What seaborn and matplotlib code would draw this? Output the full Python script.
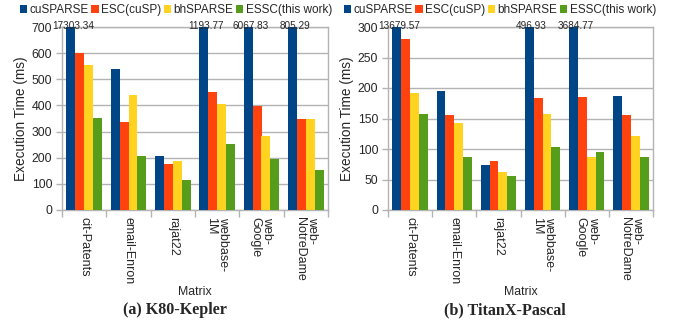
import numpy as np
import pandas as pd
import matplotlib
matplotlib.use("Agg")
import matplotlib.pyplot as plt
import seaborn as sns
from matplotlib.patches import Patch

# Matrices and their rotated tick labels
matrices = ["cit-Patents", "email-Enron", "rajat22", "webbase-1M", "web-Google", "web-NotreDame"]
tick_labels = ["cit-Patents", "email-Enron", "rajat22", "webbase-\n1M", "web-\nGoogle", "web-\nNotreDame"]
methods = ["cuSPARSE", "ESC(cuSP)", "bhSPARSE", "ESSC(this work)"]

# Execution time (ms) on K80 (Kepler)
k80_cusparse = [17303.34, 541, 208, 1193.77, 6067.83, 805.29]
k80_esc = [599, 338, 177, 450, 399, 349]
k80_bhsparse = [556, 441, 189, 407, 284, 349]
k80_essc = [353, 208, 116, 254, 196, 154]

# Execution time (ms) on TitanX (Pascal)
titan_cusparse = [13679.57, 195, 74, 496.93, 3684.77, 187]
titan_esc = [281, 156, 81, 184, 186, 155]
titan_bhsparse = [192, 142, 63, 158, 87, 122]
titan_essc = [158, 87, 55, 104, 95, 87]

colors = ["#004586", "#ff420e", "#ffd320", "#579d1c"]
grid_color = "#b3b3b3"

sns.set_theme(style="white")
plt.rcParams["font.family"] = ["Liberation Sans", "DejaVu Sans"]


def long_frame(series):
    rows = []
    for meth, vals in zip(methods, series):
        for m, v in zip(matrices, vals):
            rows.append({"Matrix": m, "Method": meth, "Time": v})
    return pd.DataFrame(rows)


fig = plt.figure(figsize=(6.81, 3.24), dpi=100)
ax_l = fig.add_axes([62 / 681, 1 - 210 / 324, 266 / 681, 183 / 324])
ax_r = fig.add_axes([388 / 681, 1 - 210 / 324, 265 / 681, 183 / 324])

panels = [
    (ax_l, [k80_cusparse, k80_esc, k80_bhsparse, k80_essc], 700, 100,
     "(a) K80-Kepler", 176 / 681, 175 / 681),
    (ax_r, [titan_cusparse, titan_esc, titan_bhsparse, titan_essc], 300, 50,
     "(b) TitanX-Pascal", 500 / 681, 505 / 681),
]

for ax, series, ymax, ystep, caption, leg_x, cap_x in panels:
    df = long_frame(series)
    sns.barplot(data=df, x="Matrix", y="Time", hue="Method", order=matrices,
                hue_order=methods, palette=colors, saturation=1, width=0.8,
                errorbar=None, legend=False, linewidth=0, ax=ax, zorder=3)
    ax.set_ylim(0, ymax)
    ax.set_xlim(-0.5, len(matrices) - 0.5)
    ax.set_yticks(np.arange(0, ymax + 1, ystep))
    ax.yaxis.grid(True, color=grid_color, linewidth=1, zorder=0)
    ax.set_axisbelow(True)
    for sp in ax.spines.values():
        sp.set_visible(True)
        sp.set_color(grid_color)
        sp.set_linewidth(1)

    ax.set_xticks(range(len(matrices)))
    ax.set_xticklabels(tick_labels, rotation=270, ha="center", va="top",
                       fontsize=9, linespacing=1.0, multialignment="left")
    ax.set_xticks(np.arange(-0.5, len(matrices)), minor=True)
    ax.tick_params(axis="x", which="major", length=0, pad=5)
    ax.tick_params(axis="x", which="minor", length=5, width=1, color=grid_color, bottom=True)
    ax.tick_params(axis="y", length=4, width=1, color=grid_color, pad=3, labelsize=8.8,
                   left=True)
    ax.set_xlabel("Matrix", fontsize=8.8, labelpad=1)
    ax.set_ylabel("Execution Time (ms)", fontsize=9.8, labelpad=3)

    # Value labels for bars that run past the top of the axis
    for bar, v in zip(ax.containers[0], series[0]):
        if v > ymax:
            ax.annotate(f"{v:.2f}", xy=(bar.get_x() + bar.get_width() / 2, ymax),
                        xytext=(1.5, 0.5), textcoords="offset points",
                        ha="center", va="center", fontsize=7.2,
                        annotation_clip=False)

    handles = [Patch(facecolor=c, edgecolor="none", label=m) for c, m in zip(colors, methods)]
    fig.legend(handles=handles, loc="center", bbox_to_anchor=(leg_x, 1 - 10 / 324),
               ncol=4, frameon=False, fontsize=8.5, handlelength=0.6, handleheight=0.6,
               handletextpad=0.2, columnspacing=0.25, borderaxespad=0, borderpad=0)

    fig.text(cap_x, 1 - 310 / 324, caption, ha="center", va="center",
             fontsize=11.6, fontweight="bold", family=["Liberation Serif", "DejaVu Serif"])

fig.savefig("out.png", dpi=100, facecolor="white")
